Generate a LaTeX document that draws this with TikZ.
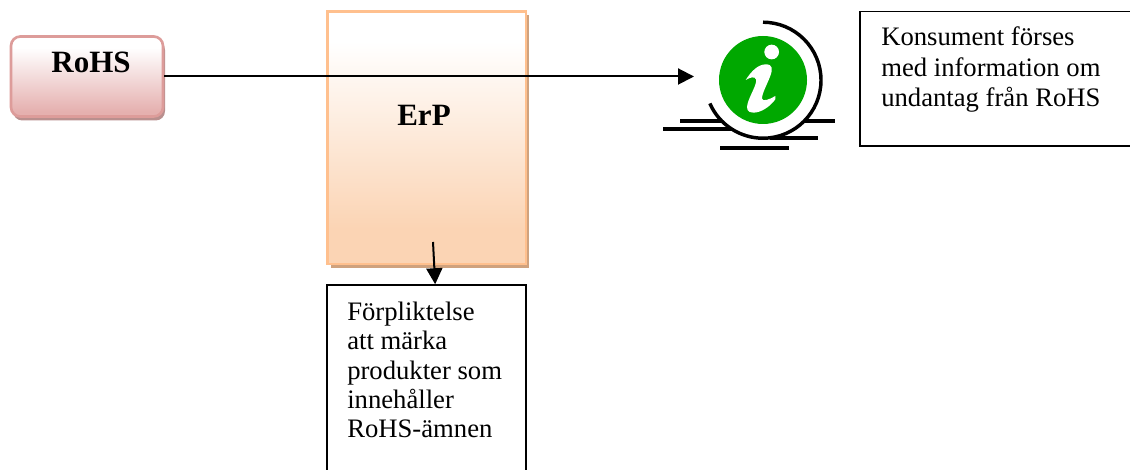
\documentclass[tikz,border=0pt]{standalone}
\usepackage{fontspec}
\setmainfont{Liberation Serif}
\usetikzlibrary{arrows.meta,shadows,positioning}
\definecolor{rosakant}{HTML}{DD9C9A}
\definecolor{rosaskugga}{HTML}{B98F8E}
\definecolor{rosabotten}{HTML}{E5B0AF}
\definecolor{persika}{HTML}{FBD4B4}
\definecolor{persikakant}{HTML}{FFC08E}
\definecolor{persikaskugga}{HTML}{CFA27E}
\definecolor{infogron}{HTML}{00A800}
\pgfdeclareverticalshading{rohsfade}{100bp}{color(0bp)=(rosabotten); color(28bp)=(rosabotten); color(68bp)=(white); color(100bp)=(white)}
\pgfdeclareverticalshading{erpfade}{100bp}{color(0bp)=(persika); color(32bp)=(persika); color(69bp)=(white); color(100bp)=(white)}

\begin{document}
\begin{tikzpicture}[x=.75pt,y=.75pt]

	\tikzstyle{rohsbox}=[rectangle,rounded corners=7pt,draw=rosakant,line width=2pt,minimum width=114pt,minimum height=60pt,shading=rohsfade,drop shadow={shadow xshift=1.5pt,shadow yshift=-3pt,fill=rosaskugga,opacity=1}]
	\tikzstyle{erpbox}=[rectangle,draw=persikakant,line width=2pt,minimum width=149pt,minimum height=189.5pt,shading=erpfade,drop shadow={shadow xshift=2.5pt,shadow yshift=-3pt,fill=persikaskugga,opacity=1}]
	\tikzstyle{textbox}=[rectangle,draw=black,line width=1.1pt,fill=white]
	\tikzstyle{rubrik}=[font=\fontsize{23.25}{27}\selectfont\bfseries]
	\tikzstyle{brodtext}=[font=\fontsize{20}{22}\selectfont,align=left,anchor=west,inner sep=0pt]
	\tikzstyle{pil}=[-{Triangle[length=12pt,width=12pt]},line width=1.5pt]
	\tikzstyle{streck}=[line width=2.6pt]

	\clip (0,0) rectangle (1130,470);

	\node [rohsbox] (rohs) at (87,393.5) {};
	\node [rubrik] (rohstext) at (91,408) {RoHS};
	\node [erpbox] (erp) at (426.7,332.3) {};
	\node [rubrik] (erptext) at (424,355) {ErP};

	\node [textbox,minimum width=149pt,minimum height=153.75pt] (forpl) at (426.5,82.5) {};
	\node [brodtext] (forpltext) at (347,100) {Förpliktelse\\att märka\\produkter som\\innehåller\\RoHS-ämnen};
	\node [textbox,minimum width=210pt,minimum height=101pt] (info) at (1000,391.2) {};
	\node [brodtext,font=\fontsize{20}{22.8}\selectfont] (infotext) at (881,400.5) {Konsument förses\\med information om\\undantag från RoHS};

	\coordinate (c1) at (680,349);
	\coordinate (c2) at (835,349);
	\coordinate (c3) at (663,341);
	\coordinate (c4) at (735,341);
	\coordinate (c5) at (770,332);
	\coordinate (c6) at (818,332);
	\coordinate (c7) at (720,322);
	\coordinate (c8) at (789,322);
	\draw [streck] (c1) -- (c2);
	\draw [streck] (c3) -- (c4);
	\draw [streck] (c5) -- (c6);
	\draw [streck] (c7) -- (c8);

	\node [circle,fill=white,minimum size=87pt,inner sep=0pt] (ring) at (763,389.5) {};
	\draw [streck] (ring.90) arc [start angle=90,end angle=-156.4,radius=58];
	\node [circle,fill=infogron,minimum size=66pt,inner sep=0pt] (infoikon) at (763,390) {};

	\begin{scope}[shift={(650,460)},x=.25pt,y=-.25pt]
		\fill [white] (365,126) circle [radius=22];
		\fill [white] (287,210) .. controls (305,182) and (325,163) .. (348,163)
			.. controls (368,163) and (368,178) .. (362,195)
			.. controls (352,222) and (335,252) .. (336,266)
			.. controls (338,276) and (360,268) .. (376,258)
			.. controls (378,262) and (378,264) .. (376,268)
			.. controls (358,292) and (332,308) .. (310,308)
			.. controls (292,308) and (288,296) .. (293,280)
			.. controls (300,255) and (322,222) .. (318,208)
			.. controls (314,198) and (300,202) .. (287,210) -- cycle;
	\end{scope}

	\coordinate (infopil) at (694,393.5);
	\coordinate (forplstart) at (433,228);
	\draw [pil] (rohs.east) -- (infopil);
	\draw [pil] (forplstart) -- ([xshift=6.5pt]forpl.north);
\end{tikzpicture}
\end{document}
